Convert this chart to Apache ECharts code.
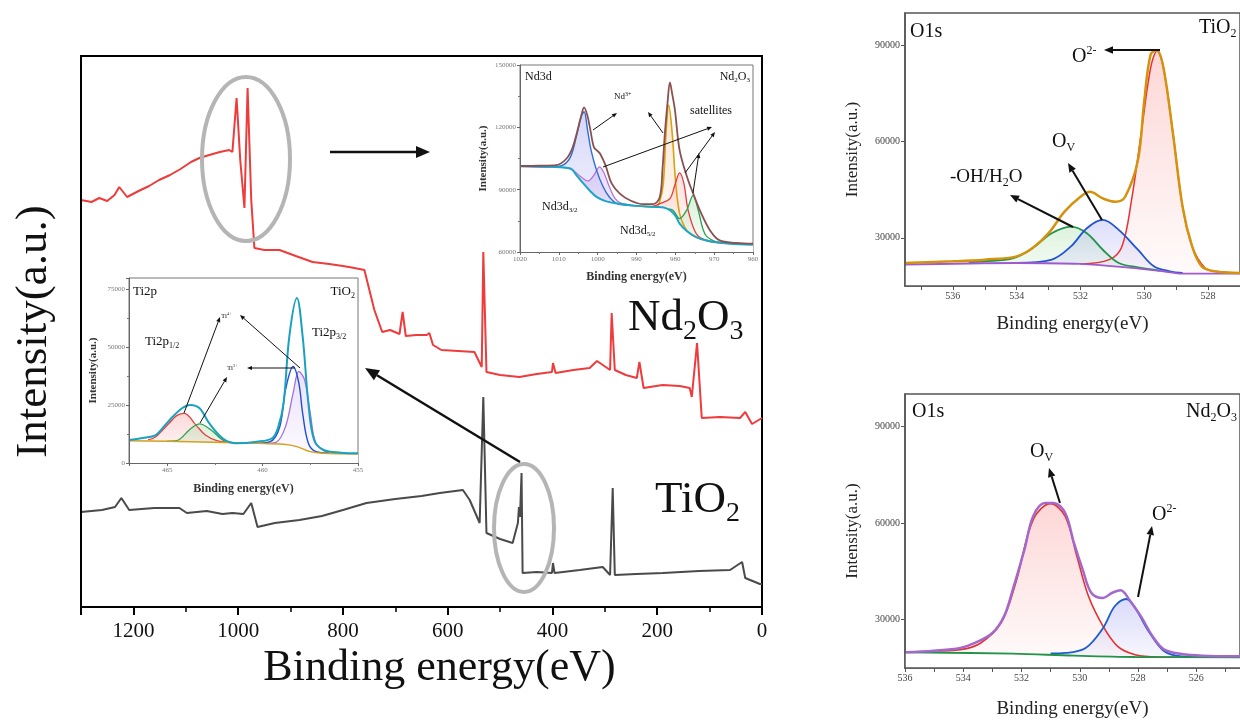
<!DOCTYPE html>
<html><head><meta charset="utf-8">
<script src="https://cdn.jsdelivr.net/npm/echarts@6/dist/echarts.min.js"></script>
<style>html,body{margin:0;padding:0;background:#fff}#c{width:1240px;height:721px}</style>
</head><body><div id="c"></div>
<script>
// ---------- Survey spectra (binding energy eV, intensity a.u.) ----------
const ndSurvX = [1300,1280,1265,1250,1236,1227,1212,1190,1170,1151,1130,1110,1090,1074,1055,1035,1017,1011,1003,996,988,982,975,969,950,921,890,858,826,800,778,759,740,725,710,692,686,680,660,640,635,628,612,580,549,535,532,526,500,463,430,401,399,394,360,329,315,290,287,281,260,239,234,226,190,157,138,134,124,115,80,42,32,19,0];
const ndSurvY = [407,405,409,406,412,420,410,416,421,427,432,438,445,449,452,455,457,455,509,447,399,519,407,359,357,357,351,345,343,341,339,337,297,275,277,273,295,271,272,272,274,262,257,256,255,240,355,235,232,230,233,235,244,234,237,239,246,237,294,237,232,229,245,219,222,221,219,210,264,189,190,189,195,183,189];
const tiSurvX = [1300,1260,1235,1223,1208,1160,1112,1098,1060,1030,1011,990,975,963,930,883,840,800,755,700,650,615,571,558,539,532,526,500,476,466,464,462,459,457,430,401,399,396,348,304,290,285,281,240,189,120,61,38,32,4,0];
const tiSurvY = [95,97,100,109,97,99,99,94,96,93,94,93,104,80,84,87,91,97,104,108,111,114,117,107,84,210,74,68,64,84,100,90,134,34,35,34,44,34,37,40,32,119,32,33,34,36,37,45,29,23,23];

// ---------- Nd3d inset ----------
const ndBgX = [1020,1012,1007,1005.5,1003.7,1002,1000.3,998,995,990,985,983,981.4,980,978.9,977,974.6,972,970,966,960];
const ndBgY = [101300,101000,100200,97000,93000,89500,86500,84500,83300,82200,81700,81400,80100,77500,73700,70000,67200,65500,64800,64000,63500];
const ndEnvX = [1020,1015,1010.6,1008,1006.5,1005.4,1004.3,1003.5,1002.7,1002,1001,1000,999.4,998,996.4,994.3,991.7,988.3,985.7,984,983.3,982.7,982,981.4,980.8,980.1,978.9,977,975.4,973.7,971.1,968.6,964.3,960];
const ndEnvY = [101400,101500,101800,105000,110000,117000,125000,129600,126000,120000,110600,108500,107400,101800,93000,88100,84900,83000,83000,86500,100000,117000,132000,141600,136000,128300,109000,96200,88100,80100,70500,65600,64400,64000];
const ndBlueX = [1020,1012,1009,1007,1005.5,1004.3,1003.5,1002.6,1001.7,1000.3,998.6,997,995,990];
const ndBlueY = [101300,101000,101800,105800,115500,125000,127500,118700,109000,99400,91400,86500,83300,82200];
const ndPurX = [1020,1010,1007,1004.5,1002.5,1001,999.5,998.3,997,995.5,994,990];
const ndPurY = [101300,100800,100000,96500,94200,96900,101000,97800,91400,85700,83600,82200];
const ndOrX = [990,985,984,983.1,982.4,981.7,980.8,979.9,978.9,977.6,976.3,974,970];
const ndOrY = [82200,81600,84500,93000,117000,130700,117000,93000,78500,72000,69000,66600,64800];
const ndRedX = [986,984,981.4,980,978.9,977.8,976.7,974.6,972,968];
const ndRedY = [81800,83300,85700,93000,98100,93000,80100,68800,65600,64300];
const ndGrX = [982,980.6,978.9,977.1,975.4,974.1,972.4,970,966];
const ndGrY = [80800,80100,76100,80100,87300,80100,68800,65300,64200];

// ---------- Ti2p inset ----------
const tiEnvX = [467,466.3,465.6,465.2,464.7,464.2,463.8,463.3,462.8,462.1,461.4,460.3,459.5,459.2,458.9,458.6,458.2,457.9,457.6,457.3,456.8,455.9,455];
const tiEnvY = [9960,10800,12100,15500,20100,23800,25100,23700,17200,10700,8500,9200,10700,15000,25800,54700,71300,54700,25800,9960,5630,4480,4190];
const tiBaseX = [467,463.8,460.3,458.9,458.2,457.5,456.8,455];
const tiBaseY = [9670,9240,8520,8090,7080,4910,4190,3900];
const tiRedX = [466,465.6,464.9,464.5,464.1,463.5,463.0,462.4,461.8];
const tiRedY = [10000,11400,17200,20500,21500,16500,12100,9700,9000];
const tiGrX = [465,464.5,463.8,463.3,462.7,462.1,461.5];
const tiGrY = [9500,9700,14600,16900,14300,10000,8800];
const tiBlueX = [460.5,459.6,459.1,458.8,458.4,458.1,457.9,457.6,457.2,456.5];
const tiBlueY = [8500,9240,15700,31600,41700,34500,21500,8520,4910,4300];
const tiPurX = [460,459.3,458.8,458.4,458.1,457.8,457.5,457.2,456.6];
const tiPurY = [8500,8950,15700,30200,39600,36000,21500,8520,4500];

// ---------- O1s TiO2 ----------
const o1sTicksX = [528,530,532,534,536];
const o1sTicksY = [30000,60000,90000];
const toEnvX = [537.5,536,535,534,533.5,533,532.5,532,531.7,531.3,530.9,530.6,530.2,530,529.8,529.6,529.4,529.1,528.8,528.5,528.2,527.8,527];
const toEnvY = [22160,22680,23200,24230,26800,31440,38140,42780,44330,42270,41240,42780,54130,72690,87120,88350,83000,62370,39690,27320,21130,19590,19070];
const toRedX = [532,531.1,530.7,530.4,530.1,529.8,529.6,529.4,529.1,528.8,528.5,528.1,527.8,527];
const toRedY = [21860,23200,27320,41750,62370,83000,88150,83000,62370,39690,27320,20620,19590,19070];
const toBlueX = [534,532.9,532.3,531.8,531.3,530.8,530.2,529.7,529.2,528.8];
const toBlueY = [22160,23200,27320,33000,35570,32470,26290,21130,19590,19070];
const toGrX = [535.5,535,534.1,533.5,532.9,532.3,531.8,531.3,530.8,530.2,529.5];
const toGrY = [22400,22680,23700,26800,31440,33500,31440,26290,22160,20820,19800];
const toBaseX = [537.5,534,532,530.4,529.4,528.8,527];
const toBaseY = [21650,22160,21860,20620,19590,18870,18870];

// ---------- O1s Nd2O3 ----------
const noTicksX = [526,528,530,532,534,536];
const noEnvX = [536,535,534.1,533.6,533,532.6,532.3,531.9,531.6,531.2,530.9,530.5,530.2,529.9,529.6,529.2,528.9,528.6,528.3,527.9,527.5,527.1,526.5,525.8,524.5];
const noEnvY = [19870,20380,21210,22760,25860,31030,39310,51710,62050,66190,66190,63090,53780,45510,38270,36720,38270,39100,36200,31030,24830,20690,19350,18830,18630];
const noRedX = [535,534.1,533.4,532.7,532.2,531.6,531.0,530.5,530.1,529.7,529.2,528.7,528.1,527.3,526];
const noRedY = [20300,20690,22760,28970,41370,61020,65980,62050,49650,37240,27930,21730,19140,18420,18350];
const noBlueX = [531,530.5,529.8,529.2,528.8,528.4,528.1,527.6,527.1,526.5,525.5];
const noBlueY = [19500,19660,21210,27410,34140,36410,33620,25860,20180,18630,18400];
const noBaseX = [536,532.3,530.2,528.1,524.5];
const noBaseY = [19870,19450,18830,18420,18320];

// ---------- helpers ----------
const SERIF = '"Liberation Serif","Times New Roman",serif';
function pts(xs, ys) { return xs.map((x, i) => [x, ys[i]]); }
function plain(v) { return String(v); }
function grad(r, g, b, a0) {
  return {type:'linear', x:0, y:0, x2:0, y2:1, colorStops:[
    {offset:0, color:`rgba(${r},${g},${b},${a0})`},
    {offset:1, color:`rgba(${r},${g},${b},0.03)`}]};
}
function ln(gi, xs, ys, color, width, extra) {
  return Object.assign({type:'line', xAxisIndex:gi, yAxisIndex:gi, data:pts(xs, ys), symbol:'none',
    lineStyle:{color:color, width:width}, silent:true, z:2}, extra || {});
}
function fill(c) { return {areaStyle:{origin:'start', color:c}, smooth:0.35}; }
const whiteArea = {areaStyle:{origin:'start', color:'#fff', opacity:1}, smooth:0.35};

function smallAxis(extra, hide) {
  return Object.assign({type:'value', z:5, splitLine:{show:false},
    axisLine:{show:true, onZero:false, lineStyle:{color:'#666', width:1}},
    axisTick:{show:true, length:3, lineStyle:{color:'#666', width:1}},
    minorTick:{show:true, splitNumber:2, length:2, lineStyle:{color:'#777'}},
    axisLabel:{fontSize:7, color:'#777', fontFamily:SERIF, margin:4,
      formatter:(v) => (v === hide ? '' : String(v))},
    nameLocation:'middle', nameTextStyle:{fontSize:12, fontFamily:SERIF, color:'#333', fontWeight:'bold'}}, extra);
}
function midAxis(extra) {
  return Object.assign({type:'value', z:5, splitLine:{show:false},
    axisLine:{show:true, onZero:false, lineStyle:{color:'#555', width:1.5}},
    nameLocation:'middle', nameTextStyle:{fontSize:19, fontFamily:SERIF, color:'#222'}}, extra);
}
function midLabels(vals) {
  return {fontSize:10, color:'#444', fontFamily:SERIF, margin:5, customValues:vals, formatter:plain};
}

// rich text: {n|..} normal, {b|..} subscript, {p|..} superscript
function rt(x, y, markup, size, align, color) {
  const c = color || '#111';
  const s2 = Math.round(size * 0.62);
  return {type:'text', x:x, y:y, z:100, silent:true, style:{
    text:markup, align:align || 'left', verticalAlign:'middle', fill:c,
    font:`${size}px ${SERIF}`,
    rich:{
      n:{fontSize:size, fontFamily:SERIF, fill:c},
      b:{fontSize:s2, fontFamily:SERIF, fill:c, padding:[Math.round(size*0.62),0,0,0]},
      p:{fontSize:s2, fontFamily:SERIF, fill:c, padding:[0,0,Math.round(size*0.6),0]}
    }}};
}
function arrow(x1, y1, x2, y2, w, h) {
  const a = Math.atan2(y2 - y1, x2 - x1), L = h, W = h * 0.42;
  const bx = x2 - L * Math.cos(a), by = y2 - L * Math.sin(a);
  return [
    {type:'line', z:100, silent:true, shape:{x1:x1, y1:y1, x2:bx, y2:by}, style:{stroke:'#111', lineWidth:w}},
    {type:'polygon', z:100, silent:true, shape:{points:[[x2, y2], [bx + W * Math.sin(a), by - W * Math.cos(a)], [bx - W * Math.sin(a), by + W * Math.cos(a)]]}, style:{fill:'#111'}}
  ];
}
function ellipse(cx, cy, rx, ry) {
  return {type:'ellipse', z:100, silent:true, shape:{cx:cx, cy:cy, rx:rx, ry:ry}, style:{fill:'none', stroke:'#b5b5b5', lineWidth:4}};
}

const graphic = [].concat(
  [ellipse(246, 159, 44, 82), ellipse(524, 528, 30, 64)],
  arrow(330, 152, 430, 152, 2.5, 14),
  arrow(520, 462, 365, 368, 2.5, 14),
  [rt(628, 318, '{n|Nd}{b|2}{n|O}{b|3}', 45), rt(655, 500, '{n|TiO}{b|2}', 45)],
  [rt(525, 77, '{n|Nd3d}', 12), rt(750, 77, '{n|Nd}{b|2}{n|O}{b|3}', 12, 'right'),
   rt(614, 97, '{n|Nd}{p|3+}', 9), rt(690, 111, '{n|satellites}', 12),
   rt(542, 207, '{n|Nd3d}{b|3/2}', 12), rt(620, 231, '{n|Nd3d}{b|5/2}', 12)],
  arrow(593, 130, 617, 113, 1, 5), arrow(663, 133, 648, 112, 1, 5),
  arrow(603, 167, 712, 127, 1, 5), arrow(685, 173, 715, 132, 1, 5), arrow(693, 193, 699, 153, 1, 5),
  [rt(133, 292, '{n|Ti2p}', 13), rt(355, 292, '{n|TiO}{b|2}', 13, 'right'),
   rt(145, 342, '{n|Ti2p}{b|1/2}', 13), rt(312, 333, '{n|Ti2p}{b|3/2}', 13),
   rt(221, 316, '{n|Ti}{p|4+}', 7), rt(227, 368, '{n|Ti}{p|3+}', 7)],
  arrow(184, 413, 220, 317, 1, 5), arrow(300, 368, 240, 315, 1, 5),
  arrow(295, 368, 247, 368, 1, 5), arrow(200, 423, 227, 377, 1, 5),
  [rt(910, 32, '{n|O1s}', 20), rt(1199, 28, '{n|TiO}{b|2}', 20),
   rt(1072, 57, '{n|O}{p|2-}', 20), rt(1052, 142, '{n|O}{b|V}', 20),
   rt(950, 177, '{n|-OH/H}{b|2}{n|O}', 19)],
  arrow(1160, 50, 1104, 50, 2, 9), arrow(1102, 220, 1068, 163, 2, 9), arrow(1073, 227, 1010, 195, 2, 9),
  [rt(912, 412, '{n|O1s}', 20), rt(1186, 412, '{n|Nd}{b|2}{n|O}{b|3}', 20),
   rt(1030, 452, '{n|O}{b|V}', 20), rt(1152, 515, '{n|O}{p|2-}', 20)],
  arrow(1060, 503, 1049, 468, 2, 9), arrow(1138, 597, 1152, 526, 2, 9)
);

const option = {
  animation:false,
  backgroundColor:'#fff',
  grid:[
    {left:81, top:56, width:681, height:551, show:true, borderColor:'#000', borderWidth:2, backgroundColor:'rgba(0,0,0,0)'},
    {left:520, top:65, width:233, height:187, show:true, borderColor:'#777', borderWidth:1, backgroundColor:'#fff'},
    {left:129, top:278, width:229, height:185, show:true, borderColor:'#777', borderWidth:1, backgroundColor:'#fff'},
    {left:905, top:13, width:345, height:273, show:true, borderColor:'#555', borderWidth:1.5, backgroundColor:'#fff'},
    {left:905, top:394, width:354, height:274, show:true, borderColor:'#555', borderWidth:1.5, backgroundColor:'#fff'}
  ],
  xAxis:[
    {gridIndex:0, type:'value', min:0, max:1300, interval:200, inverse:true, z:5,
     axisLine:{onZero:false, lineStyle:{color:'#000', width:2}},
     axisTick:{length:8, lineStyle:{color:'#000', width:2}},
     minorTick:{show:true, splitNumber:2, length:5, lineStyle:{color:'#000', width:1.5}},
     axisLabel:{fontSize:21, fontFamily:SERIF, color:'#111', margin:14,
       formatter:(v) => (v === 1300 ? '' : String(v))},
     splitLine:{show:false},
     name:'Binding energy(eV)', nameLocation:'middle', nameGap:34,
     nameTextStyle:{fontSize:44, fontFamily:SERIF, color:'#111', padding:[0,0,0,36]}},
    smallAxis({gridIndex:1, min:960, max:1020, interval:10, inverse:true, name:'Binding energy(eV)', nameGap:19}),
    smallAxis({gridIndex:2, min:455, max:467, interval:5, inverse:true, name:'Binding energy(eV)', nameGap:20}, 467),
    midAxis({gridIndex:3, min:527, max:537.5, inverse:true, name:'Binding energy(eV)', nameGap:29,
      axisTick:{show:true, length:4, customValues:[528,529,530,531,532,533,534,535,536,537], lineStyle:{color:'#555'}},
      axisLabel:midLabels(o1sTicksX)}),
    midAxis({gridIndex:4, min:524.5, max:536, inverse:true, name:'Binding energy(eV)', nameGap:32,
      axisTick:{show:true, length:4, customValues:[525,526,527,528,529,530,531,532,533,534,535,536], lineStyle:{color:'#555'}},
      axisLabel:midLabels(noTicksX)})
  ],
  yAxis:[
    {gridIndex:0, type:'value', min:0, max:551, z:5,
     axisLine:{show:true, onZero:false, lineStyle:{color:'#000', width:2}},
     axisTick:{show:false}, axisLabel:{show:false}, splitLine:{show:false},
     name:'Intensity(a.u.)', nameLocation:'middle', nameRotate:90, nameGap:24,
     nameTextStyle:{fontSize:45, fontFamily:SERIF, color:'#111'}},
    smallAxis({gridIndex:1, min:60000, max:150000, interval:30000, name:'Intensity(a.u.)', nameGap:31, nameRotate:90,
      nameTextStyle:{fontSize:11, fontFamily:SERIF, color:'#333', fontWeight:'bold'}}),
    smallAxis({gridIndex:2, min:0, max:80000, interval:25000, name:'Intensity(a.u.)', nameGap:30, nameRotate:90,
      nameTextStyle:{fontSize:11, fontFamily:SERIF, color:'#333', fontWeight:'bold'}}, 80000),
    midAxis({gridIndex:3, min:15000, max:100000, name:'Intensity(a.u.)', nameGap:44, nameRotate:90,
      nameTextStyle:{fontSize:17, fontFamily:SERIF, color:'#222'},
      axisTick:{show:true, length:4, customValues:o1sTicksY, lineStyle:{color:'#555'}},
      axisLabel:midLabels(o1sTicksY)}),
    midAxis({gridIndex:4, min:15000, max:100000, name:'Intensity(a.u.)', nameGap:44, nameRotate:90,
      nameTextStyle:{fontSize:17, fontFamily:SERIF, color:'#222'},
      axisTick:{show:true, length:4, customValues:o1sTicksY, lineStyle:{color:'#555'}},
      axisLabel:midLabels(o1sTicksY)})
  ],
  series:[
    ln(0, ndSurvX, ndSurvY, '#ee3b3b', 2),
    ln(0, tiSurvX, tiSurvY, '#4a4a4a', 2),
    ln(1, ndPurX, ndPurY, '#b070d8', 1.2, fill(grad(190,140,230,0.45))),
    ln(1, ndBlueX, ndBlueY, '#2a6fd6', 1.4, fill(grad(150,150,240,0.55))),
    ln(1, ndOrX, ndOrY, '#d9a010', 1.6, fill(grad(245,190,140,0.55))),
    ln(1, ndRedX, ndRedY, '#e83838', 1.3, fill(grad(245,160,160,0.45))),
    ln(1, ndGrX, ndGrY, '#2a9d50', 1.3, fill(grad(140,220,150,0.5))),
    ln(1, ndBgX, ndBgY, '#1ba5c8', 2, whiteArea),
    ln(1, ndEnvX, ndEnvY, '#8b5050', 1.8, {smooth:0.35}),
    ln(2, tiRedX, tiRedY, '#e84040', 1.3, fill(grad(245,150,150,0.5))),
    ln(2, tiGrX, tiGrY, '#30a050', 1.3, fill(grad(150,215,150,0.5))),
    ln(2, tiPurX, tiPurY, '#a070e0', 1.3, fill(grad(200,170,240,0.5))),
    ln(2, tiBlueX, tiBlueY, '#2050d0', 1.4, {smooth:0.35}),
    ln(2, tiBaseX, tiBaseY, '#d4a020', 1.5, whiteArea),
    ln(2, tiEnvX, tiEnvY, '#1aa0c0', 2, {smooth:0.35}),
    ln(3, toRedX, toRedY, '#e83030', 1.5, fill(grad(250,140,140,0.5))),
    ln(3, toGrX, toGrY, '#22944a', 1.8, fill(grad(150,215,150,0.45))),
    ln(3, toBlueX, toBlueY, '#1f55d0', 1.8, fill(grad(150,150,240,0.45))),
    ln(3, toBaseX, toBaseY, '#a05ad0', 1.8, whiteArea),
    ln(3, toEnvX, toEnvY, '#d4920f', 2.5, {smooth:0.35}),
    ln(4, noRedX, noRedY, '#e53030', 1.6, fill(grad(250,140,140,0.5))),
    ln(4, noBlueX, noBlueY, '#1c5fcc', 1.8, fill(grad(150,150,240,0.5))),
    ln(4, noBaseX, noBaseY, '#22944a', 1.8, whiteArea),
    ln(4, noEnvX, noEnvY, '#a468cc', 2.5, {smooth:0.35})
  ],
  graphic:graphic
};
const chart = echarts.init(document.getElementById('c'), null, {renderer:'canvas'});
chart.setOption(option);
</script></body></html>
